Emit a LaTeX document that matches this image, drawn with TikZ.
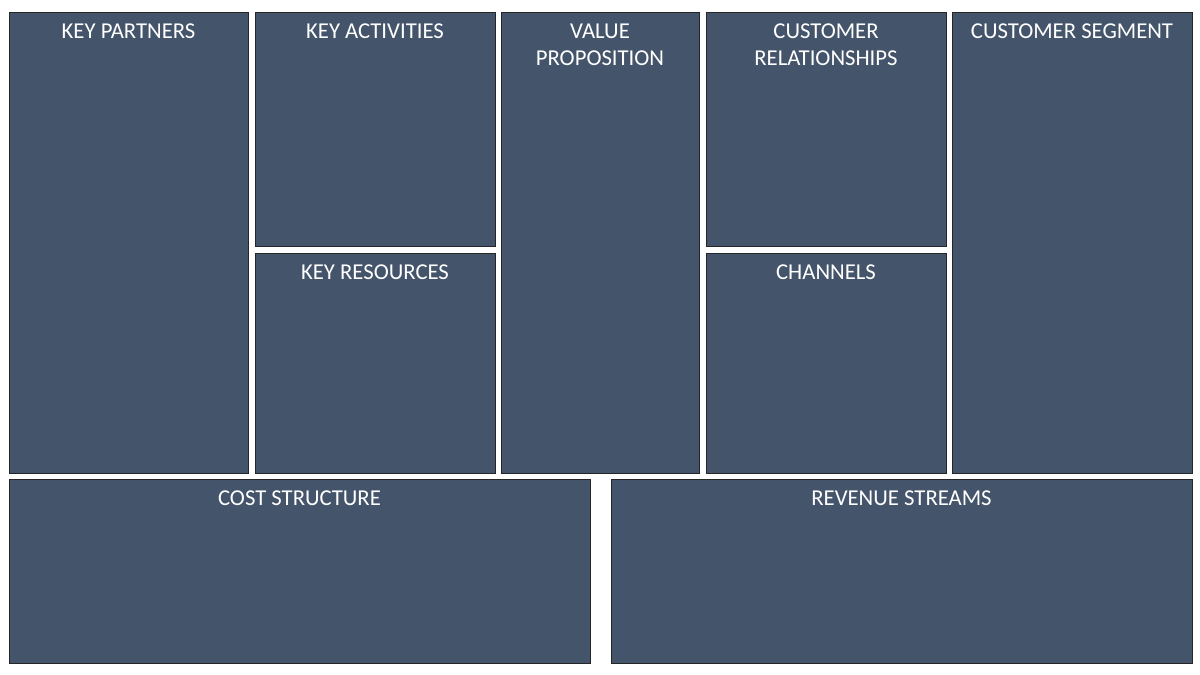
\documentclass[tikz,border=0pt]{standalone}
\usepackage{fontspec}
\setmainfont{Carlito}
\definecolor{boxfill}{HTML}{44546A}
\begin{document}
\begin{tikzpicture}[x=1pt,y=-1pt,
  cell/.style={draw=black!85, line width=1pt, fill=boxfill, anchor=north west, inner sep=0pt, outer sep=0pt},
  title/.style={anchor=north, inner sep=0pt, text=white, align=center, font=\fontsize{22.7}{27}\selectfont}]
\useasboundingbox[fill=white] (0,0) rectangle (1200,675);
\node[cell, minimum width=239pt, minimum height=461pt] (kp) at (9,12) {};
\node[cell, minimum width=240pt, minimum height=234pt] (ka) at (255,12) {};
\node[cell, minimum width=240pt, minimum height=220pt] (kr) at (255,253) {};
\node[cell, minimum width=198pt, minimum height=461pt] (vp) at (501,12) {};
\node[cell, minimum width=240pt, minimum height=234pt] (cr) at (706,12) {};
\node[cell, minimum width=240pt, minimum height=220pt] (ch) at (706,253) {};
\node[cell, minimum width=240pt, minimum height=461pt] (cs) at (952,12) {};
\node[cell, minimum width=581pt, minimum height=184pt] (cost) at (9,479) {};
\node[cell, minimum width=581pt, minimum height=184pt] (rev) at (611,479) {};
\node[title] (tkp) at ([yshift=-11.5pt]kp.north) {KEY PARTNERS};
\node[title] (tka) at ([yshift=-11.5pt]ka.north) {KEY ACTIVITIES};
\node[title] (tkr) at ([yshift=-11.5pt]kr.north) {KEY RESOURCES};
\node[title] (tvp) at ([yshift=-11.5pt]vp.north) {VALUE\\PROPOSITION};
\node[title] (tcr) at ([yshift=-11.5pt]cr.north) {CUSTOMER\\RELATIONSHIPS};
\node[title] (tch) at ([yshift=-11.5pt]ch.north) {CHANNELS};
\node[title] (tcs) at ([yshift=-11.5pt]cs.north) {CUSTOMER SEGMENT};
\node[title] (tcost) at ([yshift=-11.5pt]cost.north) {COST STRUCTURE};
\node[title] (trev) at ([yshift=-11.5pt]rev.north) {REVENUE STREAMS};
\end{tikzpicture}
\end{document}
